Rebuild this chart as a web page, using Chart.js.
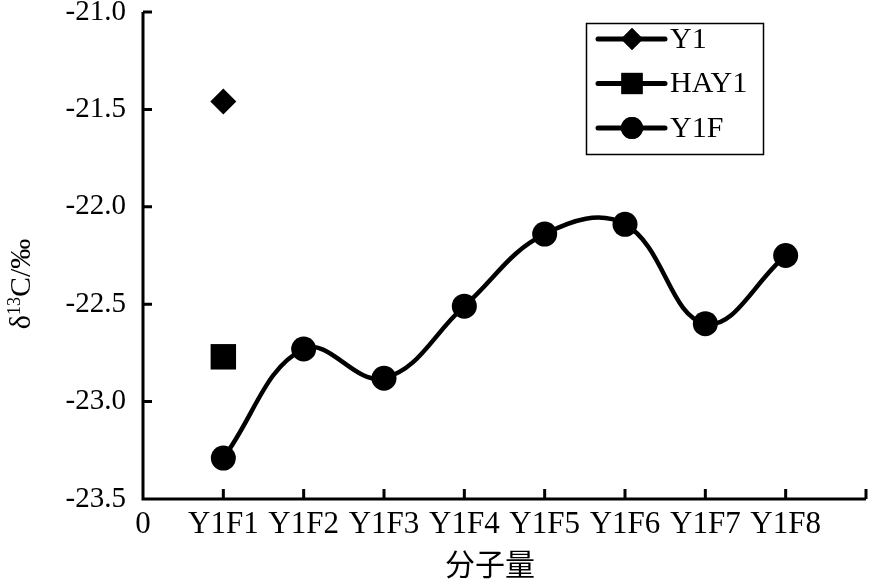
<!DOCTYPE html>
<html>
<head>
<meta charset="utf-8">
<script src="https://cdn.jsdelivr.net/npm/chart.js@4.4.1/dist/chart.umd.min.js"></script>
<style>
  html, body { margin: 0; padding: 0; background: #fff; }
  #wrap { width: 869px; height: 579px; position: relative; }
</style>
</head>
<body>
<div id="wrap"><canvas id="chart"></canvas></div>
<script>
// x positions: 0 .. 9, labels at each integer
const xTickLabels = ['0', 'Y1F1', 'Y1F2', 'Y1F3', 'Y1F4', 'Y1F5', 'Y1F6', 'Y1F7', 'Y1F8', ''];
const y1Values = [-21.46];          // Y1, at Y1F1
const hay1Values = [-22.77];        // HAY1, at Y1F1
const y1fValues = [-23.29, -22.73, -22.88, -22.51, -22.14, -22.09, -22.60, -22.25];
const yMin = -23.5, yMax = -21.0, yStep = 0.5;

const SERIF = "'Liberation Serif', 'Times New Roman', serif";

function toPoints(vals) {
  return vals.map((v, i) => ({ x: i + 1, y: v }));
}

// axis lines with inward tick marks
const axesPlugin = {
  id: 'axes',
  beforeDatasetsDraw(chart) {
    const { ctx, chartArea: a, scales } = chart;
    ctx.save();
    ctx.strokeStyle = '#000';
    ctx.lineWidth = 3;
    ctx.beginPath();
    ctx.moveTo(a.left, a.top);
    ctx.lineTo(a.left, a.bottom);
    ctx.lineTo(a.right, a.bottom);
    scales.y.ticks.forEach(t => {
      const py = scales.y.getPixelForValue(t.value);
      ctx.moveTo(a.left, py);
      ctx.lineTo(a.left + 9, py);
    });
    scales.x.ticks.forEach(t => {
      if (t.value <= 0) return;
      const px = scales.x.getPixelForValue(t.value);
      ctx.moveTo(px, a.bottom);
      ctx.lineTo(px, a.bottom - 10);
    });
    ctx.stroke();
    ctx.restore();
  }
};

// y title with superscript, x title
const titlesPlugin = {
  id: 'titles',
  afterDraw(chart) {
    const ctx = chart.ctx;
    ctx.save();
    ctx.fillStyle = '#000';
    ctx.translate(20, 284);
    ctx.rotate(-Math.PI / 2);
    const big = '30px ' + SERIF, small = '18px ' + SERIF;
    ctx.font = big; const w1 = ctx.measureText('δ').width;
    ctx.font = small; const w2 = ctx.measureText('13').width;
    ctx.font = big; const w3 = ctx.measureText('C/‰').width;
    const x0 = -(w1 + w2 + w3) / 2;
    ctx.textBaseline = 'alphabetic';
    ctx.font = big; ctx.fillText('δ', x0, 10);
    ctx.font = small; ctx.fillText('13', x0 + w1, 0);
    ctx.font = big; ctx.fillText('C/‰', x0 + w1 + w2, 10);
    ctx.restore();

    ctx.save();
    ctx.fillStyle = '#000';
    ctx.font = "30px 'Noto Sans CJK SC', sans-serif";
    ctx.textAlign = 'center';
    ctx.textBaseline = 'middle';
    ctx.fillText('分子量', 490, 564);
    ctx.restore();
  }
};

// boxed legend in the upper right
const legendPlugin = {
  id: 'boxLegend',
  afterDraw(chart) {
    const ctx = chart.ctx;
    ctx.save();
    ctx.strokeStyle = '#000';
    ctx.lineWidth = 1.5;
    ctx.strokeRect(586.5, 23.5, 177, 131);
    const legendRadius = { rectRot: 11, rect: 15, circle: 11 };
    chart.data.datasets.forEach((ds, i) => {
      const yy = 39 + i * 44.5;
      ctx.strokeStyle = '#000';
      ctx.lineWidth = 5;
      ctx.lineCap = 'round';
      ctx.beginPath();
      ctx.moveTo(598, yy);
      ctx.lineTo(665, yy);
      ctx.stroke();
      ctx.fillStyle = '#000';
      Chart.helpers.drawPoint(ctx, {
        pointStyle: ds.pointStyle,
        radius: legendRadius[ds.pointStyle],
        borderWidth: 0,
        rotation: 0
      }, 632, yy);
      ctx.fill();
      ctx.font = '30px ' + SERIF;
      ctx.textBaseline = 'middle';
      ctx.textAlign = 'left';
      ctx.fillText(ds.label, 670, yy + 1);
    });
    ctx.restore();
  }
};

new Chart(document.getElementById('chart'), {
  type: 'scatter',
  data: {
    datasets: [
      {
        label: 'Y1',
        data: toPoints(y1Values),
        pointStyle: 'rectRot',
        pointRadius: 13,
        backgroundColor: '#000',
        borderColor: '#000',
        borderWidth: 0,
        showLine: false
      },
      {
        label: 'HAY1',
        data: toPoints(hay1Values),
        pointStyle: 'rect',
        pointRadius: 18,
        backgroundColor: '#000',
        borderColor: '#000',
        borderWidth: 0,
        showLine: false
      },
      {
        label: 'Y1F',
        data: toPoints(y1fValues),
        pointStyle: 'circle',
        pointRadius: 12.5,
        pointBackgroundColor: '#000',
        pointBorderWidth: 0,
        backgroundColor: '#000',
        borderColor: '#000',
        borderWidth: 4.5,
        showLine: true,
        tension: 0.4
      }
    ]
  },
  options: {
    responsive: true,
    maintainAspectRatio: false,
    animation: false,
    layout: { autoPadding: false, padding: { left: 0, top: 12, right: 3, bottom: 0 } },
    plugins: { legend: { display: false }, tooltip: { enabled: false } },
    scales: {
      x: {
        type: 'linear',
        min: 0,
        max: 9,
        afterFit(scale) {
          scale.height = 80;
          scale.paddingLeft = 0;
          scale.paddingRight = 0;
        },
        grid: { display: false, drawTicks: false },
        border: { display: false },
        ticks: {
          stepSize: 1,
          autoSkip: false,
          maxRotation: 0,
          padding: 7,
          color: '#000',
          font: { family: SERIF, size: 31 },
          callback: v => xTickLabels[v]
        }
      },
      y: {
        min: yMin,
        max: yMax,
        afterFit(scale) {
          scale.width = 143;
          scale.paddingTop = 0;
          scale.paddingBottom = 0;
        },
        grid: { display: false, drawTicks: false },
        border: { display: false },
        ticks: {
          stepSize: yStep,
          padding: 17,
          color: '#000',
          font: { family: SERIF, size: 29 },
          callback: v => v.toFixed(1)
        }
      }
    }
  },
  plugins: [axesPlugin, titlesPlugin, legendPlugin]
});
</script>
</body>
</html>
